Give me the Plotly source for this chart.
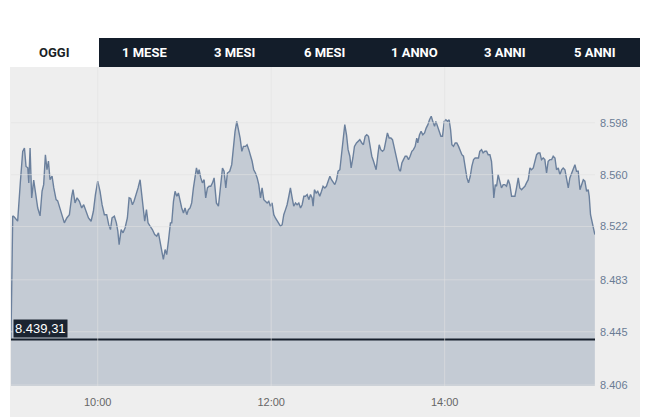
import plotly.graph_objects as go
from datetime import datetime, timedelta

# indice intraday: minuti dopo le 9:00 e valore
minuti = [
    0, 1.2, 2.3, 4.6, 6.5, 8.1, 9.3, 10.4, 11.6, 12.3, 13.2, 14.3, 15.7, 17.3, 18.5, 20.1,
    21.5, 22.6, 23.8, 24.9, 25.9, 27.0, 28.4, 29.6, 31.2, 32.3, 33.9, 35.3, 36.9, 38.6, 40.4,
    42.0, 42.9, 44.3, 45.7, 47.3, 48.9, 50.3, 51.9, 53.6, 55.4, 57.0, 58.4, 60.0, 61.6, 63.0,
    64.6, 66.2, 67.6, 68.8, 69.9, 71.5, 72.9, 73.9, 74.8, 76.2, 77.5, 78.9, 80.5, 81.7, 82.8,
    84.0, 85.1, 86.3, 87.9, 89.3, 90.4, 91.6, 92.5, 93.7, 94.8, 96.2, 97.8, 99.4, 100.8, 102.0,
    103.1, 104.3, 105.4, 106.6, 107.7, 108.9, 110.3, 111.2, 112.4, 113.5, 114.7, 115.8, 117.0,
    118.1, 119.3, 120.4, 121.6, 122.7, 123.9, 125.0, 126.2, 127.4, 128.3, 129.4, 130.1, 131.3,
    132.4, 133.6, 134.7, 135.9, 137.0, 138.2, 139.4, 140.5, 141.2, 142.1, 143.5, 144.9, 146.3,
    147.4, 148.6, 149.7, 151.3, 152.7, 153.9, 155.0, 156.2, 157.3, 158.5, 159.7, 160.8, 162.2,
    163.3, 164.5, 165.6, 166.8, 167.9, 169.1, 170.3, 171.4, 172.6, 173.7, 174.9, 176.0, 177.2,
    178.3, 179.5, 180.6, 181.8, 182.9, 184.1, 185.3, 186.4, 187.6, 188.7, 189.9, 191.0, 192.2,
    193.3, 194.5, 195.6, 196.8, 197.9, 199.1, 200.3, 201.4, 202.6, 203.7, 204.9, 206.0, 207.2,
    208.3, 209.0, 209.9, 211.1, 212.2, 213.6, 214.8, 215.9, 217.1, 218.2, 219.4, 220.6, 221.7,
    222.9, 224.0, 225.2, 226.3, 227.5, 228.6, 229.8, 230.9, 232.1, 233.2, 234.4, 235.3, 236.5,
    237.6, 239.0, 240.2, 241.3, 242.7, 243.8, 245.0, 246.1, 247.3, 248.4, 249.6, 250.8, 251.9,
    252.6, 253.8, 254.7, 255.8, 257.0, 258.1, 259.3, 260.4, 261.6, 262.8, 263.9, 265.1, 266.2,
    267.4, 268.5, 269.4, 270.4, 271.5, 272.7, 273.8, 275.0, 276.1, 277.3, 278.4, 279.6, 280.7,
    281.4, 282.6, 283.7, 284.9, 286.1, 287.2, 288.4, 289.5, 290.7, 291.8, 293.0, 293.9, 295.1,
    296.2, 297.4, 298.5, 299.7, 300.8, 302.0, 303.1, 304.1, 305.0, 306.1, 307.3, 308.4, 309.6,
    310.7, 311.9, 313.0, 314.2, 315.4, 316.5, 317.7, 318.8, 320.0, 321.1, 322.3, 323.4, 324.3,
    325.5, 326.6, 327.8, 329.0, 330.1, 331.3, 332.4, 333.1, 334.0, 335.0, 335.9, 337.0, 338.2,
    339.3, 340.5, 341.6, 342.8, 344.0, 345.1, 346.3, 347.4, 348.6, 349.7, 350.9, 352.0, 353.2,
    354.3, 355.5, 356.6, 357.8, 359.0, 360.1, 361.3, 362.4, 363.6, 364.7, 365.9, 367.0, 368.2,
    369.3, 370.5, 371.6, 372.8, 374.0, 375.1, 376.3, 377.4, 378.6, 379.7, 380.9, 382.0, 383.2,
    384.3, 385.5, 386.6, 387.8, 389.0, 390.1, 391.2, 392.4, 393.6, 394.7, 395.9, 397.0, 398.2,
    399.3, 400.0, 400.9, 402.1, 403.2, 403.9,
]
valori = [
    8440.0, 8529.8, 8529.0, 8526.0, 8555.0, 8577.0, 8579.5, 8566.0, 8565.0, 8554.0, 8579.5,
    8543.0, 8556.0, 8543.0, 8535.6, 8529.8, 8548.0, 8552.7, 8574.6, 8563.6, 8570.0, 8556.3,
    8559.0, 8550.3, 8541.7, 8540.8, 8535.6, 8530.7, 8524.7, 8528.3, 8530.7, 8544.2, 8549.0,
    8539.3, 8543.0, 8540.5, 8535.6, 8538.0, 8533.2, 8528.3, 8525.9, 8533.2, 8545.4, 8555.2,
    8547.8, 8538.0, 8530.7, 8530.7, 8523.4, 8519.8, 8528.3, 8529.6, 8524.7, 8518.6, 8508.8,
    8519.8, 8517.4, 8521.0, 8528.3, 8543.0, 8542.5, 8538.0, 8540.5, 8544.2, 8550.3, 8556.3,
    8545.4, 8530.7, 8525.9, 8534.4, 8524.7, 8522.3, 8519.8, 8516.1, 8515.0, 8517.4, 8511.3,
    8504.0, 8497.9, 8505.2, 8501.5, 8511.3, 8524.7, 8524.7, 8540.5, 8547.8, 8544.2, 8546.6,
    8540.5, 8535.6, 8532.0, 8535.6, 8530.7, 8534.4, 8535.6, 8539.3, 8550.3, 8558.8, 8564.9,
    8560.0, 8563.6, 8557.6, 8554.0, 8556.3, 8543.0, 8550.3, 8551.5, 8551.5, 8554.0, 8557.6,
    8549.0, 8539.3, 8536.9, 8550.3, 8564.9, 8562.5, 8550.3, 8561.2, 8562.5, 8567.3, 8581.9,
    8591.7, 8599.0, 8594.1, 8586.8, 8577.1, 8580.7, 8580.7, 8581.9, 8578.3, 8574.6, 8569.8,
    8563.6, 8561.2, 8557.6, 8552.7, 8543.0, 8550.3, 8541.7, 8540.5, 8539.3, 8540.5, 8536.9,
    8539.3, 8530.7, 8528.3, 8525.9, 8523.4, 8522.3, 8523.4, 8530.7, 8534.4, 8538.0, 8544.2,
    8550.3, 8543.0, 8536.9, 8539.3, 8538.0, 8539.3, 8535.6, 8538.0, 8544.2, 8544.2, 8545.4,
    8541.7, 8545.4, 8543.0, 8536.9, 8549.0, 8546.6, 8547.8, 8544.2, 8547.8, 8551.5, 8550.3,
    8551.5, 8555.2, 8558.8, 8556.3, 8554.0, 8552.7, 8556.3, 8562.5, 8563.6, 8574.6, 8584.4,
    8596.6, 8589.2, 8578.3, 8573.5, 8564.9, 8572.2, 8580.7, 8583.2, 8584.4, 8585.6, 8583.2,
    8581.9, 8588.1, 8589.2, 8588.1, 8581.9, 8573.5, 8569.8, 8566.1, 8563.6, 8574.6, 8581.9,
    8578.3, 8577.1, 8578.3, 8584.4, 8590.5, 8586.8, 8586.8, 8585.6, 8579.5, 8575.9, 8569.8,
    8563.6, 8562.5, 8568.5, 8571.0, 8573.5, 8573.5, 8571.0, 8573.5, 8577.1, 8578.3, 8580.7,
    8586.8, 8583.2, 8589.2, 8591.7, 8589.2, 8590.5, 8594.1, 8596.6, 8600.2, 8602.7, 8599.0,
    8595.4, 8599.0, 8595.4, 8590.5, 8588.1, 8588.1, 8599.0, 8600.2, 8599.0, 8600.2, 8592.9,
    8581.9, 8580.7, 8583.2, 8583.2, 8580.7, 8577.1, 8574.6, 8573.5, 8564.9, 8557.6, 8554.0,
    8558.8, 8566.1, 8571.0, 8572.2, 8572.2, 8572.2, 8577.1, 8578.3, 8575.9, 8577.1, 8577.1,
    8574.6, 8574.6, 8569.8, 8560.0, 8543.0, 8552.7, 8551.5, 8560.0, 8554.0, 8550.3, 8552.7,
    8552.7, 8551.5, 8556.3, 8552.7, 8544.2, 8544.2, 8544.2, 8550.3, 8557.6, 8550.3, 8549.0,
    8550.3, 8551.5, 8554.0, 8556.3, 8564.9, 8563.6, 8564.9, 8569.8, 8574.6, 8575.9, 8575.9,
    8571.0, 8572.2, 8571.0, 8561.2, 8569.8, 8571.0, 8571.0, 8573.5, 8572.2, 8563.6, 8564.9,
    8560.0, 8563.6, 8564.9, 8563.6, 8556.3, 8550.3, 8557.6, 8561.2, 8564.9, 8567.3, 8562.5,
    8562.5, 8549.0, 8552.7, 8556.3, 8555.2, 8547.8, 8549.0, 8544.2, 8530.7, 8524.7, 8518.6,
    8516.1,
]

chiusura_prec = 8439.31
tick_y = [8406, 8445, 8483, 8522, 8560, 8598]
tick_x = ["10:00", "12:00", "14:00"]
schede = ["OGGI", "1 MESE", "3 MESI", "6 MESI", "1 ANNO", "3 ANNI", "5 ANNI"]

apertura = datetime(2024, 1, 1, 9, 0)
tempi = [apertura + timedelta(minutes=m) for m in minuti]
tempi_tick = [datetime.combine(apertura.date(), datetime.strptime(t, "%H:%M").time()) for t in tick_x]

W, H = 653, 417
ML, MR, MT, MB = 11, 58, 67, 31
pw, ph = W - ML - MR, H - MT - MB

def px(x):  # pixel orizzontale -> paper
    return (x - ML) / pw

def py(y):  # pixel verticale -> paper
    return (H - MB - y) / ph

fig = go.Figure()

fig.add_trace(go.Scatter(
    x=tempi, y=valori, mode="lines", fill="tozeroy",
    line=dict(color="#6b809d", width=1.4),
    fillcolor="rgba(109,132,160,0.32)",
    hoverinfo="skip",
))

# linea della chiusura precedente
fig.add_trace(go.Scatter(
    x=[tempi[0], apertura + timedelta(minutes=404)], y=[chiusura_prec, chiusura_prec],
    mode="lines", line=dict(color="#17202c", width=2), hoverinfo="skip",
))

shapes = []
# sfondo grigio
shapes.append(dict(type="rect", xref="paper", yref="paper", x0=px(10), x1=px(640), y0=py(417), y1=py(67),
                   fillcolor="#eeeeee", line_width=0, layer="below"))
# barra schede
shapes.append(dict(type="rect", xref="paper", yref="paper", x0=px(99), x1=px(640), y0=py(67), y1=py(38),
                   fillcolor="#131d2a", line_width=0, layer="below"))
# griglia sopra il riempimento
for v in tick_y:
    shapes.append(dict(type="line", xref="paper", yref="y", x0=0, x1=1, y0=v, y1=v,
                       line=dict(color="rgba(225,225,225,0.6)", width=1), layer="above"))
for t in tempi_tick:
    shapes.append(dict(type="line", xref="x", yref="paper", x0=t, x1=t, y0=0, y1=1,
                       line=dict(color="rgba(225,225,225,0.6)", width=1), layer="above"))

annotations = []
larg = 90.2
for i, s in enumerate(schede):
    annotations.append(dict(
        text="<b>" + s + "</b>", xref="paper", yref="paper",
        x=px(9 + larg * i + larg / 2), y=py(52.5), xanchor="center", yanchor="middle",
        showarrow=False,
        font=dict(family="Roboto", size=13, color="#1b1f26" if i == 0 else "#ffffff"),
    ))

etichetta = f"{chiusura_prec:,.2f}".replace(",", "X").replace(".", ",").replace("X", ".")
annotations.append(dict(
    text=etichetta, x=tempi[0], y=chiusura_prec, xref="x", yref="y",
    xanchor="left", yanchor="bottom", xshift=2, yshift=2, showarrow=False,
    bgcolor="#1b2431", borderpad=1,
    font=dict(family="Liberation Sans, Arial", size=13, color="#ffffff"),
))

fig.update_layout(
    width=W, height=H, margin=dict(l=ML, r=MR, t=MT, b=MB),
    paper_bgcolor="#ffffff", plot_bgcolor="rgba(0,0,0,0)",
    showlegend=False, separators=",.",
    shapes=shapes, annotations=annotations,
    xaxis=dict(
        type="date", range=[apertura, apertura + timedelta(minutes=404)],
        tickvals=tempi_tick, tickformat="%H:%M", showgrid=False, zeroline=False,
        showline=False, ticks="", ticklabelstandoff=8, automargin=False,
        tickfont=dict(family="Liberation Sans, Arial", size=11, color="#666666"),
    ),
    yaxis=dict(
        range=[8405.3, 8638.8], side="right", tickvals=tick_y, tickformat=",.0f",
        showgrid=False, zeroline=False, showline=False, ticks="",
        ticklabelstandoff=4, automargin=False,
        tickfont=dict(family="Liberation Sans, Arial", size=11, color="#6a7c95"),
    ),
)

# niente margine della pagina attorno al grafico
fig.write_html("out.html", config={"displayModeBar": False},
               post_script="document.body.style.margin='0';")
